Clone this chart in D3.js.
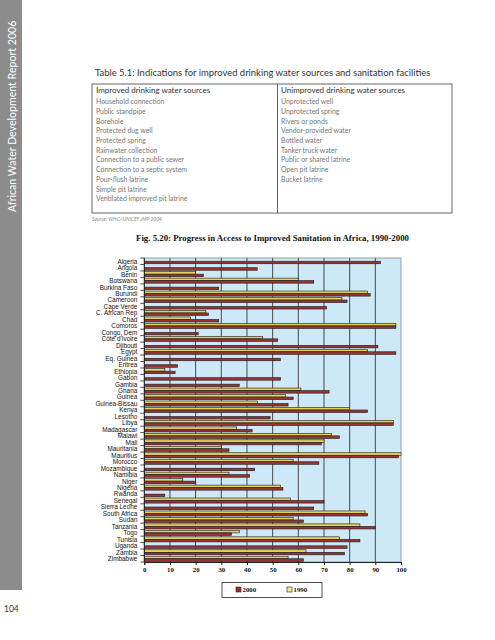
<!DOCTYPE html>
<html><head><meta charset="utf-8">
<script src="https://cdn.jsdelivr.net/npm/d3@7"></script>
<style>body{margin:0;background:#fff}svg{display:block}</style>
</head><body>
<script>
const countries = ["Algeria","Angola","Benin","Botswana","Burkina Faso","Burundi","Cameroon","Cape Verde","C. African Rep","Chad","Comoros","Congo, Dem","Côte d'Ivoire","Djibouti","Egypt","Eq. Guinea","Eritrea","Ethiopia","Gabon","Gambia","Ghana","Guinea","Guinea-Bissau","Kenya","Lesotho","Libya","Madagascar","Malawi","Mali","Mauritania","Mauritius","Morocco","Mozambique","Namibia","Niger","Nigeria","Rwanda","Senegal","Sierra Leone","South Africa","Sudan","Tanzania","Togo","Tunisia","Uganda","Zambia","Zimbabwe"];
const values2000 = [92,44,23,66,29,88,79,71,25,29,98,21,52,91,98,53,13,12,53,37,72,58,56,87,49,97,42,76,69,33,99,68,43,41,20,54,8,70,66,87,62,90,34,84,79,78,62];
const values1990 = [null,null,20,60,null,87,77,null,24,18,98,null,46,null,87,null,null,8,null,null,61,55,44,80,null,97,36,73,70,30,100,58,null,33,15,53,null,57,null,86,58,84,37,76,null,63,56];
const seriesNames = ["2000","1990"];
const xTicks = [0,10,20,30,40,50,60,70,80,90,100];

const tableTitle = "Table 5.1: Indications for improved drinking water sources and sanitation facilities";
const improvedHeader = "Improved drinking water sources";
const improvedItems = ["Household connection","Public standpipe","Borehole","Protected dug well","Protected spring","Rainwater collection","Connection to a public sewer","Connection to a septic system","Pour-flush latrine","Simple pit latrine","Ventilated improved pit latrine"];
const unimprovedHeader = "Unimproved drinking water sources";
const unimprovedItems = ["Unprotected well","Unprotected spring","Rivers or ponds","Vendor-provided water","Bottled water","Tanker truck water","Public or shared latrine","Open pit latrine","Bucket latrine"];

const svg = d3.select("body").append("svg").attr("width",495).attr("height",640);
svg.append("rect").attr("width",495).attr("height",640).attr("fill","#fff");

// side strip
svg.append("rect").attr("x",0).attr("y",0).attr("width",22).attr("height",590).attr("fill","#8c8c8c");
svg.append("text").attr("transform","translate(16,212) rotate(-90)")
  .attr("font-family","Lato, 'Open Sans', sans-serif").attr("font-size",10.6).attr("fill","#fff")
  .text("African Water Development Report 2006");
svg.append("text").attr("x",4).attr("y",612).attr("font-family","Lato, sans-serif").attr("font-size",8.5).attr("fill","#333").text("104");

// table
const gf = "Lato, 'Open Sans', sans-serif";
svg.append("text").attr("x",95).attr("y",76).attr("font-family",gf).attr("font-size",9.45).attr("fill","#333").text(tableTitle);
svg.append("rect").attr("x",92).attr("y",84).attr("width",360).attr("height",129).attr("fill","none").attr("stroke","#555").attr("stroke-width",0.9);
svg.append("line").attr("x1",277.5).attr("x2",277.5).attr("y1",84).attr("y2",213).attr("stroke","#555").attr("stroke-width",0.9);
[[96,improvedHeader,improvedItems],[281,unimprovedHeader,unimprovedItems]].forEach(([tx,h,items])=>{
  svg.append("text").attr("x",tx).attr("y",92.5).attr("font-family",gf).attr("font-size",8).attr("fill","#333").text(h);
  svg.selectAll(null).data(items).enter().append("text")
    .attr("x",tx).attr("y",(d,i)=>104.2+i*9.7).attr("font-family",gf).attr("font-size",6.9).attr("fill","#777").text(d=>d);
});
svg.append("text").attr("x",92).attr("y",221).attr("font-family",gf).attr("font-size",5).attr("font-style","italic").attr("fill","#888").text("Source: WHO/UNICEF JMP 2004");

// chart
const serif = "'Liberation Serif','Times New Roman',serif";
svg.append("text").attr("x",272.5).attr("y",240.5).attr("text-anchor","middle").attr("font-family",serif)
  .attr("font-weight","bold").attr("font-size",8.8).attr("fill","#111")
  .text("Fig. 5.20: Progress in Access to Improved Sanitation in Africa, 1990-2000");

const pLeft=144.3, pRight=401, pTop=258, pBottom=562;
const x = d3.scaleLinear().domain([0,100]).range([pLeft,pRight]);
const y = d3.scaleBand().domain(countries).range([pTop,pBottom]).paddingInner(0.22).paddingOuter(0.11);
const ySub = d3.scaleBand().domain(["1990","2000"]).range([0,y.bandwidth()]).padding(0);
const colors = {"2000":"#9b3333","1990":"#e6d255"};

svg.append("rect").attr("x",pLeft).attr("y",pTop).attr("width",pRight-pLeft).attr("height",pBottom-pTop)
  .attr("fill","#cde8f6").attr("stroke","#8a8a8a").attr("stroke-width",0.8);
svg.append("g").selectAll("line").data(xTicks.slice(1,-1)).enter().append("line")
  .attr("x1",d=>x(d)).attr("x2",d=>x(d)).attr("y1",pTop).attr("y2",pBottom).attr("stroke","#222").attr("stroke-width",0.8);

const rows = countries.map((c,i)=>({c, v2000:values2000[i], v1990:values1990[i]}));
const g = svg.append("g");
rows.forEach(r=>{
  [["1990",r.v1990],["2000",r.v2000]].forEach(([s,v])=>{
    if(v==null) return;
    g.append("rect").attr("x",x(0)).attr("y",y(r.c)+ySub(s)).attr("width",x(v)-x(0)).attr("height",ySub.bandwidth())
      .attr("fill",colors[s]).attr("stroke","#1a1a1a").attr("stroke-width",0.6);
  });
});

// y axis
const yAxisG = svg.append("g").attr("transform",`translate(${pLeft},0)`);
yAxisG.append("line").attr("x1",0).attr("x2",0).attr("y1",pTop).attr("y2",pBottom).attr("stroke","#222").attr("stroke-width",1);
const bandH = (pBottom-pTop)/countries.length;
yAxisG.selectAll("line.tk").data(d3.range(countries.length+1)).enter().append("line").attr("class","tk")
  .attr("x1",-4).attr("x2",0).attr("y1",i=>pTop+i*bandH).attr("y2",i=>pTop+i*bandH)
  .attr("stroke","#222").attr("stroke-width",0.8);
yAxisG.selectAll("text").data(countries).enter().append("text")
  .attr("x",-7).attr("y",d=>y(d)+y.bandwidth()/2+2.4).attr("text-anchor","end")
  .attr("font-family","'Liberation Sans',Arial,sans-serif").attr("font-size",6.4).attr("fill","#111").text(d=>d);

// x axis
const xAxis = d3.axisBottom(x).tickValues(xTicks).tickSize(3).tickFormat(d3.format("d"));
const xg = svg.append("g").attr("transform",`translate(0,${pBottom})`).call(xAxis);
xg.select(".domain").attr("stroke","#222");
xg.selectAll(".tick line").attr("stroke","#222");
xg.selectAll("text").attr("font-family",serif).attr("font-weight","bold").attr("font-size",6.8).attr("fill","#111").attr("dy","0.55em");

// legend
const lg = svg.append("g");
lg.append("rect").attr("x",222).attr("y",582.5).attr("width",100).attr("height",15).attr("fill","#fff").attr("stroke","#222").attr("stroke-width",0.8);
seriesNames.forEach((s,i)=>{
  const lx = 236 + i*51;
  lg.append("rect").attr("x",lx).attr("y",587).attr("width",5).attr("height",5).attr("fill",s==="1990"?"#f5ec7a":colors[s]).attr("stroke","#222").attr("stroke-width",0.6);
  lg.append("text").attr("x",lx+6.5).attr("y",592).attr("font-family",serif).attr("font-weight","bold").attr("font-size",6.8).attr("fill","#111").text(s);
});
</script>
</body></html>
